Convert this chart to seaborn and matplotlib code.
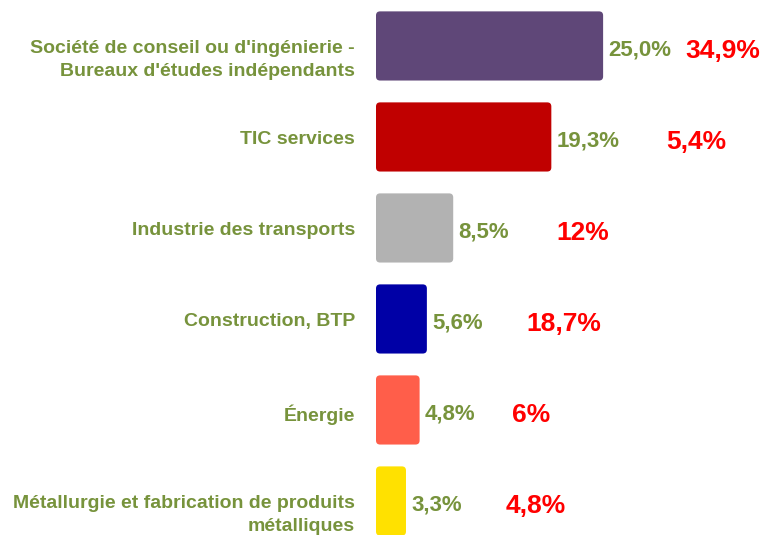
import matplotlib
matplotlib.use("Agg")
import matplotlib.pyplot as plt
import seaborn as sns
import pandas as pd
from matplotlib.patches import FancyBboxPatch
from matplotlib.transforms import offset_copy, blended_transform_factory

# ---- data ----
categories = [
    "Société de conseil ou d'ingénierie -\nBureaux d'études indépendants",
    "TIC services",
    "Industrie des transports",
    "Construction, BTP",
    "Énergie",
    "Métallurgie et fabrication de produits\nmétalliques",
]
values = [25.0, 19.3, 8.5, 5.6, 4.8, 3.3]
value_labels = ["25,0%", "19,3%", "8,5%", "5,6%", "4,8%", "3,3%"]
other_labels = ["34,9%", "5,4%", "12%", "18,7%", "6%", "4,8%"]

# ---- styling / layout ----
bar_colors = ["#5F4778", "#C00000", "#B2B2B2", "#0000A6", "#FF5E4A", "#FFE100"]
green = "#77933C"
red = "#FF0000"
other_label_x = [34.0, 32.0, 19.9, 16.6, 15.0, 14.3]

sns.set_theme(style="white")
plt.rcParams['font.family'] = ['Liberation Sans', 'DejaVu Sans']

fig = plt.figure(figsize=(7.63, 5.35), dpi=100)
fig.patch.set_facecolor("white")
ax = fig.add_axes([376 / 763, 0, 387 / 763, 1])

df = pd.DataFrame({"cat": categories, "val": values})
sns.barplot(data=df, x="val", y="cat", hue="cat", palette=bar_colors,
            legend=False, width=0.76, saturation=1, ax=ax)

ax.set_xlim(0, 42.6)
ax.set_ylim(5.374, -0.505)

# rounded bars
for p in list(ax.patches):
    x0, y0, w, h = p.get_x(), p.get_y(), p.get_width(), p.get_height()
    fc = p.get_facecolor()
    p.remove()
    ax.add_patch(FancyBboxPatch((x0, y0), w, h,
                                boxstyle="round,pad=0,rounding_size=0.45",
                                mutation_aspect=0.1, fc=fc, ec="none"))

ax.set_axis_off()

trans_lab = offset_copy(blended_transform_factory(ax.transAxes, ax.transData),
                        fig=fig, x=-21, y=5.5, units="dots")
trans_val = offset_copy(ax.transData, fig=fig, x=5, y=-1.5, units="dots")
trans_red = offset_copy(ax.transData, fig=fig, x=0, y=-2.5, units="dots")

for i, (cat, v, vl, ol, ox) in enumerate(zip(categories, values, value_labels,
                                              other_labels, other_label_x)):
    ax.text(0, i, cat, transform=trans_lab, ha="right", va="top",
            fontsize=14, fontweight="bold", color=green, linespacing=1.45,
            multialignment="right", clip_on=False)
    ax.text(v, i, vl, transform=trans_val, ha="left", va="center_baseline",
            fontsize=16, fontweight="bold", color=green)
    ax.text(ox, i, ol, transform=trans_red, ha="left", va="center_baseline",
            fontsize=19, fontweight="bold", color=red)

fig.savefig("out.png", dpi=100, facecolor="white")
